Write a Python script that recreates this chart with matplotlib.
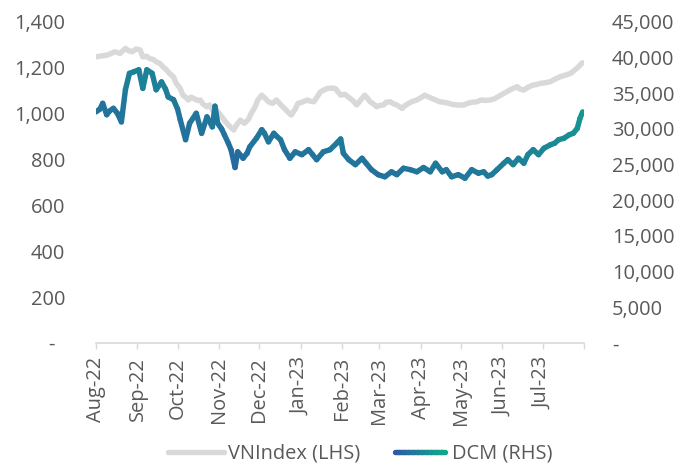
import numpy as np
import pandas as pd
import matplotlib
matplotlib.use("Agg")
import matplotlib.pyplot as plt
import matplotlib.dates as mdates
from matplotlib.collections import LineCollection
from matplotlib.legend_handler import HandlerBase
from matplotlib.colors import to_rgb
from matplotlib.ticker import FuncFormatter, MultipleLocator

plt.rcParams['font.family'] = ['Open Sans', 'DejaVu Sans']

# VNIndex (left axis)
vn_dates = ['2022-08-01', '2022-08-05', '2022-08-09', '2022-08-12', '2022-08-15', '2022-08-19',
            '2022-08-23', '2022-08-25', '2022-08-28', '2022-08-31', '2022-09-03', '2022-09-05',
            '2022-09-08', '2022-09-10', '2022-09-13', '2022-09-15', '2022-09-18', '2022-09-20',
            '2022-09-22', '2022-09-25', '2022-09-28', '2022-09-30', '2022-10-03', '2022-10-05',
            '2022-10-07', '2022-10-09', '2022-10-11', '2022-10-13', '2022-10-16', '2022-10-18',
            '2022-10-20', '2022-10-23', '2022-10-25', '2022-10-28', '2022-10-30', '2022-11-02',
            '2022-11-05', '2022-11-08', '2022-11-12', '2022-11-14', '2022-11-17', '2022-11-20',
            '2022-11-23', '2022-11-25', '2022-11-28', '2022-11-30', '2022-12-03', '2022-12-05',
            '2022-12-08', '2022-12-11', '2022-12-14', '2022-12-17', '2022-12-20', '2022-12-23',
            '2022-12-25', '2022-12-28', '2022-12-30', '2023-01-02', '2023-01-06', '2023-01-08',
            '2023-01-11', '2023-01-13', '2023-01-16', '2023-01-18', '2023-01-21', '2023-01-24',
            '2023-01-27', '2023-01-31', '2023-02-03', '2023-02-07', '2023-02-09', '2023-02-12',
            '2023-02-15', '2023-02-18', '2023-02-20', '2023-02-22', '2023-02-24', '2023-02-27',
            '2023-03-01', '2023-03-04', '2023-03-06', '2023-03-09', '2023-03-11', '2023-03-14',
            '2023-03-18', '2023-03-20', '2023-03-23', '2023-03-25', '2023-03-29', '2023-04-01',
            '2023-04-04', '2023-04-06', '2023-04-09', '2023-04-12', '2023-04-15', '2023-04-18',
            '2023-04-22', '2023-04-25', '2023-04-29', '2023-05-03', '2023-05-06', '2023-05-09',
            '2023-05-13', '2023-05-16', '2023-05-19', '2023-05-23', '2023-05-26', '2023-05-29',
            '2023-06-02', '2023-06-05', '2023-06-08', '2023-06-12', '2023-06-14', '2023-06-17',
            '2023-06-20', '2023-06-24', '2023-06-27', '2023-06-29', '2023-07-03', '2023-07-07',
            '2023-07-10', '2023-07-14', '2023-07-18', '2023-07-22', '2023-07-25', '2023-07-28',
            '2023-07-30', '2023-07-31']
vn_vals = [1248, 1252, 1255, 1262, 1270, 1263,
           1285, 1276, 1270, 1282, 1278, 1248,
           1250, 1241, 1236, 1227, 1218, 1205,
           1195, 1176, 1160, 1132, 1110, 1081,
           1072, 1060, 1072, 1067, 1058, 1060,
           1042, 1030, 1038, 1008, 1016, 995,
           972, 950, 929, 950, 972, 958,
           975, 1001, 1030, 1060, 1081, 1070,
           1052, 1045, 1060, 1040, 1023, 1005,
           994, 1020, 1045, 1050, 1060, 1055,
           1052, 1070, 1096, 1102, 1110, 1112,
           1110, 1081, 1085, 1067, 1058, 1038,
           1060, 1081, 1068, 1052, 1045, 1030,
           1036, 1038, 1050, 1052, 1045, 1038,
           1023, 1035, 1045, 1052, 1060, 1070,
           1081, 1075, 1067, 1060, 1052, 1050,
           1045, 1040, 1038, 1038, 1045, 1050,
           1052, 1060, 1058, 1060, 1065, 1075,
           1089, 1098, 1108, 1118, 1108, 1103,
           1115, 1125, 1128, 1132, 1135, 1140,
           1150, 1161, 1168, 1176, 1190, 1205,
           1219, 1222]

# DCM (right axis)
dcm_dates = ['2022-08-01', '2022-08-04', '2022-08-06', '2022-08-09', '2022-08-11', '2022-08-14',
             '2022-08-17', '2022-08-20', '2022-08-23', '2022-08-26', '2022-08-29', '2022-09-02',
             '2022-09-05', '2022-09-08', '2022-09-12', '2022-09-15', '2022-09-19', '2022-09-22',
             '2022-09-24', '2022-09-28', '2022-10-01', '2022-10-03', '2022-10-07', '2022-10-10',
             '2022-10-15', '2022-10-19', '2022-10-23', '2022-10-27', '2022-10-29', '2022-10-31',
             '2022-11-03', '2022-11-05', '2022-11-08', '2022-11-10', '2022-11-13', '2022-11-15',
             '2022-11-19', '2022-11-22', '2022-11-24', '2022-11-29', '2022-12-03', '2022-12-05',
             '2022-12-08', '2022-12-12', '2022-12-14', '2022-12-17', '2022-12-20', '2022-12-24',
             '2022-12-28', '2023-01-02', '2023-01-07', '2023-01-10', '2023-01-13', '2023-01-18',
             '2023-01-23', '2023-01-28', '2023-01-29', '2023-01-31', '2023-02-02', '2023-02-06',
             '2023-02-11', '2023-02-16', '2023-02-19', '2023-02-23', '2023-02-28', '2023-03-05',
             '2023-03-10', '2023-03-14', '2023-03-19', '2023-03-24', '2023-03-29', '2023-04-03',
             '2023-04-08', '2023-04-12', '2023-04-17', '2023-04-20', '2023-04-24', '2023-04-29',
             '2023-05-04', '2023-05-09', '2023-05-14', '2023-05-18', '2023-05-21', '2023-05-24',
             '2023-05-28', '2023-06-02', '2023-06-05', '2023-06-09', '2023-06-13', '2023-06-17',
             '2023-06-20', '2023-06-24', '2023-06-28', '2023-07-02', '2023-07-07', '2023-07-10',
             '2023-07-13', '2023-07-17', '2023-07-21', '2023-07-24', '2023-07-27', '2023-07-29',
             '2023-07-31']
dcm_vals = [32400, 32800, 33600, 32000, 32500, 32900,
            32200, 31000, 35500, 37800, 38000, 38300,
            35700, 38300, 37800, 35500, 36600, 35600,
            34500, 34100, 32800, 31300, 28500, 30800,
            32200, 29400, 31700, 30300, 33200, 30800,
            30000, 29200, 28000, 27100, 24600, 26800,
            25900, 26600, 27500, 28700, 29900, 29400,
            28200, 29400, 29000, 28500, 27100, 25900,
            26800, 26400, 27100, 26400, 25700, 26800,
            27100, 28000, 28200, 28600, 26600, 25700,
            25000, 25900, 25200, 24300, 23600, 23300,
            24000, 23600, 24500, 24300, 24000, 24600,
            24000, 25200, 24000, 24300, 23300, 23600,
            23100, 24300, 23800, 24000, 23400, 23600,
            24300, 25200, 25700, 25000, 25900, 25200,
            26400, 27100, 26400, 27300, 27800, 28000,
            28500, 28700, 29200, 29400, 30100, 31500,
            32400]

grey = '#d9d9d9'
txt = '#595959'
c_start = np.array(to_rgb('#2b5aa6'))
c_end = np.array(to_rgb('#0fa68a'))
fs = 14.4
lw = 3.9


def grad(t):
    t = np.clip(t, 0, 1)[:, None]
    return c_start * (1 - t) + c_end * t


class GradHandler(HandlerBase):
    def create_artists(self, legend, orig_handle, xdescent, ydescent,
                       width, height, fontsize, trans):
        # keep the round caps inside the handle box
        xs = np.linspace(-xdescent + lw / 2, width - xdescent - lw / 2, 12)
        ys = np.full_like(xs, height / 2 - ydescent)
        pts = np.column_stack([xs, ys]).reshape(-1, 1, 2)
        segs = np.concatenate([pts[:-1], pts[1:]], axis=1)
        lc = LineCollection(segs, colors=grad(np.linspace(0, 1, len(segs))),
                            linewidth=lw, capstyle='round', transform=trans)
        return [lc]


fig = plt.figure(figsize=(6.83, 4.67), dpi=100)
ax = fig.add_axes([96 / 683, 1 - 343 / 467, (584 - 96) / 683, (343 - 22) / 467])
ax2 = ax.twinx()

vx = mdates.date2num(pd.to_datetime(vn_dates))
ax.plot(vx, vn_vals, color=grey, lw=lw, solid_capstyle='round',
        solid_joinstyle='round', label='VNIndex (LHS)')

dx = mdates.date2num(pd.to_datetime(dcm_dates))
dy = np.array(dcm_vals, dtype=float)
pts = np.column_stack([dx, dy]).reshape(-1, 1, 2)
segs = np.concatenate([pts[:-1], pts[1:]], axis=1)
mx = (dx[:-1] + dx[1:]) / 2
my = (dy[:-1] + dy[1:]) / 2
t = 0.5 * (mx - dx.min()) / (dx.max() - dx.min()) + 0.5 * (my - dy.min()) / (dy.max() - dy.min())
dcm_lc = LineCollection(segs, colors=grad(t), linewidth=lw, capstyle='round',
                        joinstyle='round', label='DCM (RHS)')
ax2.add_collection(dcm_lc)

ax.set_xlim(mdates.date2num(pd.Timestamp('2022-08-01')), mdates.date2num(pd.Timestamp('2023-08-01')))
ax.set_ylim(0, 1400)
ax2.set_ylim(0, 45000)

ax.yaxis.set_major_locator(MultipleLocator(200))
ax2.yaxis.set_major_locator(MultipleLocator(5000))
ax.yaxis.set_major_formatter(FuncFormatter(lambda v, p: '-  ' if v == 0 else f'{int(v):,}'))
ax2.yaxis.set_major_formatter(FuncFormatter(lambda v, p: '-' if v == 0 else f'{int(v):,}'))

ax.xaxis.set_major_locator(mdates.MonthLocator())
last = mdates.date2num(pd.Timestamp('2023-08-01'))
ax.xaxis.set_major_formatter(FuncFormatter(
    lambda v, p: '' if v >= last - 1 else mdates.num2date(v).strftime('%b-%y')))

for a in (ax, ax2):
    for s in a.spines.values():
        s.set_visible(False)
ax.spines['bottom'].set_visible(True)
ax.spines['bottom'].set_color(grey)
ax.spines['bottom'].set_linewidth(1.2)

ax.tick_params(axis='x', length=4, width=1, color=grey, labelcolor=txt,
               labelsize=fs, rotation=90, pad=6)
ax.tick_params(axis='y', length=0, labelcolor=txt, labelsize=fs, pad=22)
ax2.tick_params(axis='y', length=0, labelcolor=txt, labelsize=fs, pad=20)

handles = [ax.get_lines()[0], dcm_lc]
fig.legend(handles, ['VNIndex (LHS)', 'DCM (RHS)'], loc='center',
           bbox_to_anchor=(360 / 683, 13 / 467), ncol=2, frameon=False,
           fontsize=fs, labelcolor=txt, handlelength=2.8, handletextpad=0.2,
           columnspacing=1.6, handler_map={dcm_lc: GradHandler()})

fig.savefig('out.png', dpi=100)
